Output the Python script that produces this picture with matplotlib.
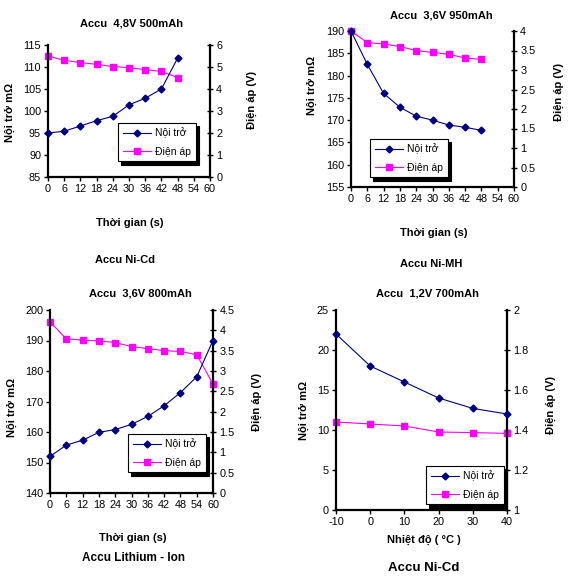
import matplotlib
matplotlib.use("Agg")
import matplotlib.pyplot as plt

plt.rcParams['font.family'] = ['Liberation Sans', 'DejaVu Sans']
plt.rcParams['axes.unicode_minus'] = False

W, H = 568, 579

# du lieu
t_nicd = [0, 6, 12, 18, 24, 30, 36, 42, 48]
r_nicd = [95, 95.4, 96.6, 97.8, 98.8, 101.4, 102.9, 105, 112]
v_nicd = [5.5, 5.3, 5.2, 5.12, 5.02, 4.97, 4.88, 4.8, 4.52]

t_nimh = [0, 6, 12, 18, 24, 30, 36, 42, 48]
r_nimh = [190, 182.5, 176, 172.9, 170.9, 170, 168.9, 168.4, 167.7]
v_nimh = [4.0, 3.7, 3.67, 3.6, 3.5, 3.45, 3.4, 3.31, 3.27]

t_li = [0, 6, 12, 18, 24, 30, 36, 42, 48, 54, 60]
r_li = [152, 155.7, 157.3, 159.9, 160.8, 162.5, 165.1, 168.6, 172.9, 178.1, 190]
v_li = [4.21, 3.79, 3.76, 3.74, 3.7, 3.6, 3.55, 3.5, 3.48, 3.4, 2.68]

temp = [-10, 0, 10, 20, 30, 40]
r_temp = [22, 18, 16, 14, 12.7, 12]
v_temp = [1.44, 1.43, 1.42, 1.39, 1.387, 1.383]

lbl_r = "Nội trở"
lbl_v = "Điện áp"

fig = plt.figure(figsize=(W / 100, H / 100), dpi=100)


def px(x, y):
    return x / W, 1 - y / H


def txt(x, y, s, size=8, rot=0):
    fig.text(*px(x, y), s, ha='center', va='center', fontsize=size,
             fontweight='bold', rotation=rot)


def panel(box, x, r, v, xlim, xticks, ylim, yticks, y2lim, y2ticks, leg_xy):
    l, r_, t, b = box
    ax = fig.add_axes([l / W, 1 - b / H, (r_ - l) / W, (b - t) / H])
    ax2 = ax.twinx()
    h1, = ax.plot(x, r, color='#000080', marker='D', ms=3.5, lw=0.8, clip_on=False, zorder=5)
    h2, = ax2.plot(x, v, color='#FF00FF', marker='s', ms=4.5, lw=0.8, clip_on=False)
    ax.set_xlim(xlim)
    ax.set_xticks(xticks)
    ax.set_ylim(ylim)
    ax.set_yticks(yticks)
    ax2.set_ylim(y2lim)
    ax2.set_yticks(y2ticks)
    ax2.set_yticklabels([f"{y:g}" for y in y2ticks])
    for a in (ax, ax2):
        a.spines['top'].set_visible(False)
        for s in ('left', 'right', 'bottom'):
            a.spines[s].set_linewidth(1.6)
        a.tick_params(labelsize=7.8, length=3, width=1, pad=2)
    ax.spines['right'].set_visible(False)
    ax2.spines['left'].set_visible(False)
    ax2.spines['bottom'].set_visible(False)
    ax2.tick_params(axis='y', direction='inout', length=5)
    ax.set_zorder(ax2.get_zorder() + 1)
    ax.patch.set_visible(False)
    leg = ax.legend([h1, h2], [lbl_r, lbl_v], loc='upper left',
                    bbox_to_anchor=px(*leg_xy), bbox_transform=fig.transFigure,
                    fontsize=7.5, frameon=True, fancybox=False,
                    shadow={'color': 'black', 'alpha': 1, 'ox': 2.2, 'oy': -2.2},
                    edgecolor='black', framealpha=1, handlelength=2.7,
                    handletextpad=0.4, borderpad=0.45, labelspacing=0.8,
                    borderaxespad=0)
    leg.get_frame().set_linewidth(0.8)
    return ax, ax2


panel((48, 210, 45, 177), t_nicd, r_nicd, v_nicd, (0, 60), range(0, 61, 6),
      (85, 115), range(85, 116, 5), (0, 6), list(range(0, 7)), (118, 123))
panel((351, 514, 31, 187), t_nimh, r_nimh, v_nimh, (0, 60), range(0, 61, 6),
      (155, 190), range(155, 191, 5), (0, 4), [i * 0.5 for i in range(9)], (370, 139))
panel((50, 213, 310, 493), t_li, r_li, v_li, (0, 60), range(0, 61, 6),
      (140, 200), range(140, 201, 10), (0, 4.5), [i * 0.5 for i in range(10)], (128, 434))
panel((336, 507, 310, 510), temp, r_temp, v_temp, (-10, 40), range(-10, 41, 10),
      (0, 25), range(0, 26, 5), (1, 2), [1, 1.2, 1.4, 1.6, 1.8, 2], (426, 466))

# tieu de
txt(132, 23, "Accu  4,8V 500mAh")
txt(441, 16, "Accu  3,6V 950mAh")
txt(140, 294, "Accu  3,6V 800mAh")
txt(427, 294, "Accu  1,2V 700mAh")

# nhan truc
txt(10, 112, "Nội trở mΩ", rot=90)
txt(252, 100, "Điện áp (V)", rot=90)
txt(312, 85, "Nội trở mΩ", rot=90)
txt(559, 92, "Điện áp (V)", rot=90)
txt(12, 407, "Nội trở mΩ", rot=90)
txt(257, 402, "Điện áp (V)", rot=90)
txt(304, 410, "Nội trở mΩ", rot=90)
txt(551, 405, "Điện áp (V)", rot=90)

txt(130, 223, "Thời gian (s)")
txt(434, 233, "Thời gian (s)")
txt(133, 538, "Thời gian (s)")
txt(424, 540, "Nhiệt độ ( °C )")

txt(125, 260, "Accu Ni-Cd", size=8)
txt(431, 264, "Accu Ni-MH", size=8)
txt(133, 558, "Accu Lithium - Ion", size=8.5)
txt(424, 568, "Accu Ni-Cd", size=9.5)

fig.savefig("out.png", dpi=100)
